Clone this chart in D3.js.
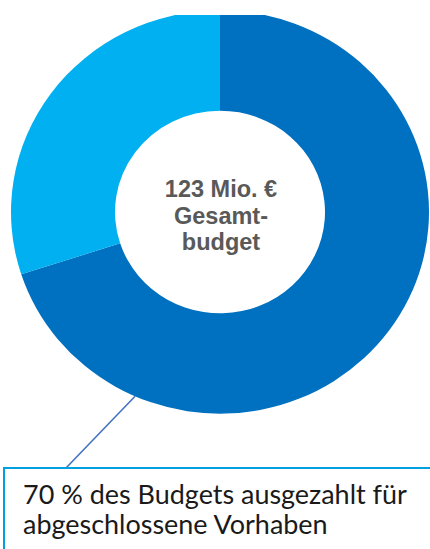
<!DOCTYPE html>
<html>
<head>
<meta charset="utf-8">
<script src="https://cdn.jsdelivr.net/npm/d3@7"></script>
<style>
  html, body { margin: 0; padding: 0; background: #fff; }
</style>
</head>
<body>
<div id="chart"></div>
<script>
// budget split (percent of total)
const categories = ["ausgezahlt für abgeschlossene Vorhaben", "übriges Budget"];
const shares = [70, 30];
const sliceColors = ["#0070C0", "#00B0F0"];
const centerLines = ["123 Mio. €", "Gesamt-", "budget"];
const calloutLines = ["70 % des Budgets ausgezahlt für", "abgeschlossene Vorhaben"];

const width = 430, height = 549;
const cx = 220, cy = 212;
const outerR = 209, innerR = 105;
const squash = 0.965;

const svg = d3.select("#chart")
  .append("svg")
  .attr("width", width)
  .attr("height", height);

// the picture is cut off at the top
svg.append("clipPath").attr("id", "cut")
  .append("rect").attr("x", 0).attr("y", 15).attr("width", width).attr("height", height);

const data = categories.map((c, i) => ({ name: c, value: shares[i], color: sliceColors[i] }));

const pie = d3.pie().sort(null).value(d => d.value);
const arc = d3.arc().innerRadius(innerR).outerRadius(outerR);

const g = svg.append("g").attr("clip-path", "url(#cut)")
  .append("g")
  .attr("transform", `translate(${cx},${cy}) scale(1,${squash})`);

const arcs = pie(data);
g.selectAll("path")
  .data(arcs)
  .enter()
  .append("path")
  .attr("d", arc)
  .attr("fill", d => d.data.color);

// center label
svg.append("g")
  .selectAll("text")
  .data(centerLines)
  .enter()
  .append("text")
  .attr("x", cx + 1)
  .attr("y", (d, i) => 197 + i * 26.5)
  .attr("text-anchor", "middle")
  .style("font-family", "'Liberation Sans', Arial, sans-serif")
  .style("font-weight", "bold")
  .style("font-size", "23.5px")
  .style("fill", "#595959")
  .text(d => d);

// leader line from the 70 % slice to the callout box
const touch = 3.56; // angle (rad) where the line meets the ring
const start = [cx + outerR * Math.sin(touch), cy - outerR * squash * Math.cos(touch)];
svg.append("line")
  .attr("x1", start[0]).attr("y1", start[1])
  .attr("x2", 66).attr("y2", 468)
  .style("stroke", "#4472C4")
  .style("stroke-width", 1.6);

// callout box
svg.append("rect")
  .attr("x", 4).attr("y", 468)
  .attr("width", 440).attr("height", 100)
  .style("fill", "#fff")
  .style("stroke", "#00A0E0")
  .style("stroke-width", 2);

const callout = svg.append("g")
  .selectAll("text")
  .data(calloutLines)
  .enter()
  .append("text")
  .attr("x", 23)
  .attr("y", (d, i) => 504 + i * 30)
  .style("font-family", "Lato, 'Open Sans', sans-serif")
  .style("font-size", "26px")
  .style("fill", "#1a1a1a")
  .text(d => d);

// fit first line to the width it has in the picture
const w0 = callout.nodes()[0].getComputedTextLength();
const fs = 26 * 384 / w0;
callout.style("font-size", fs + "px");
</script>
</body>
</html>
